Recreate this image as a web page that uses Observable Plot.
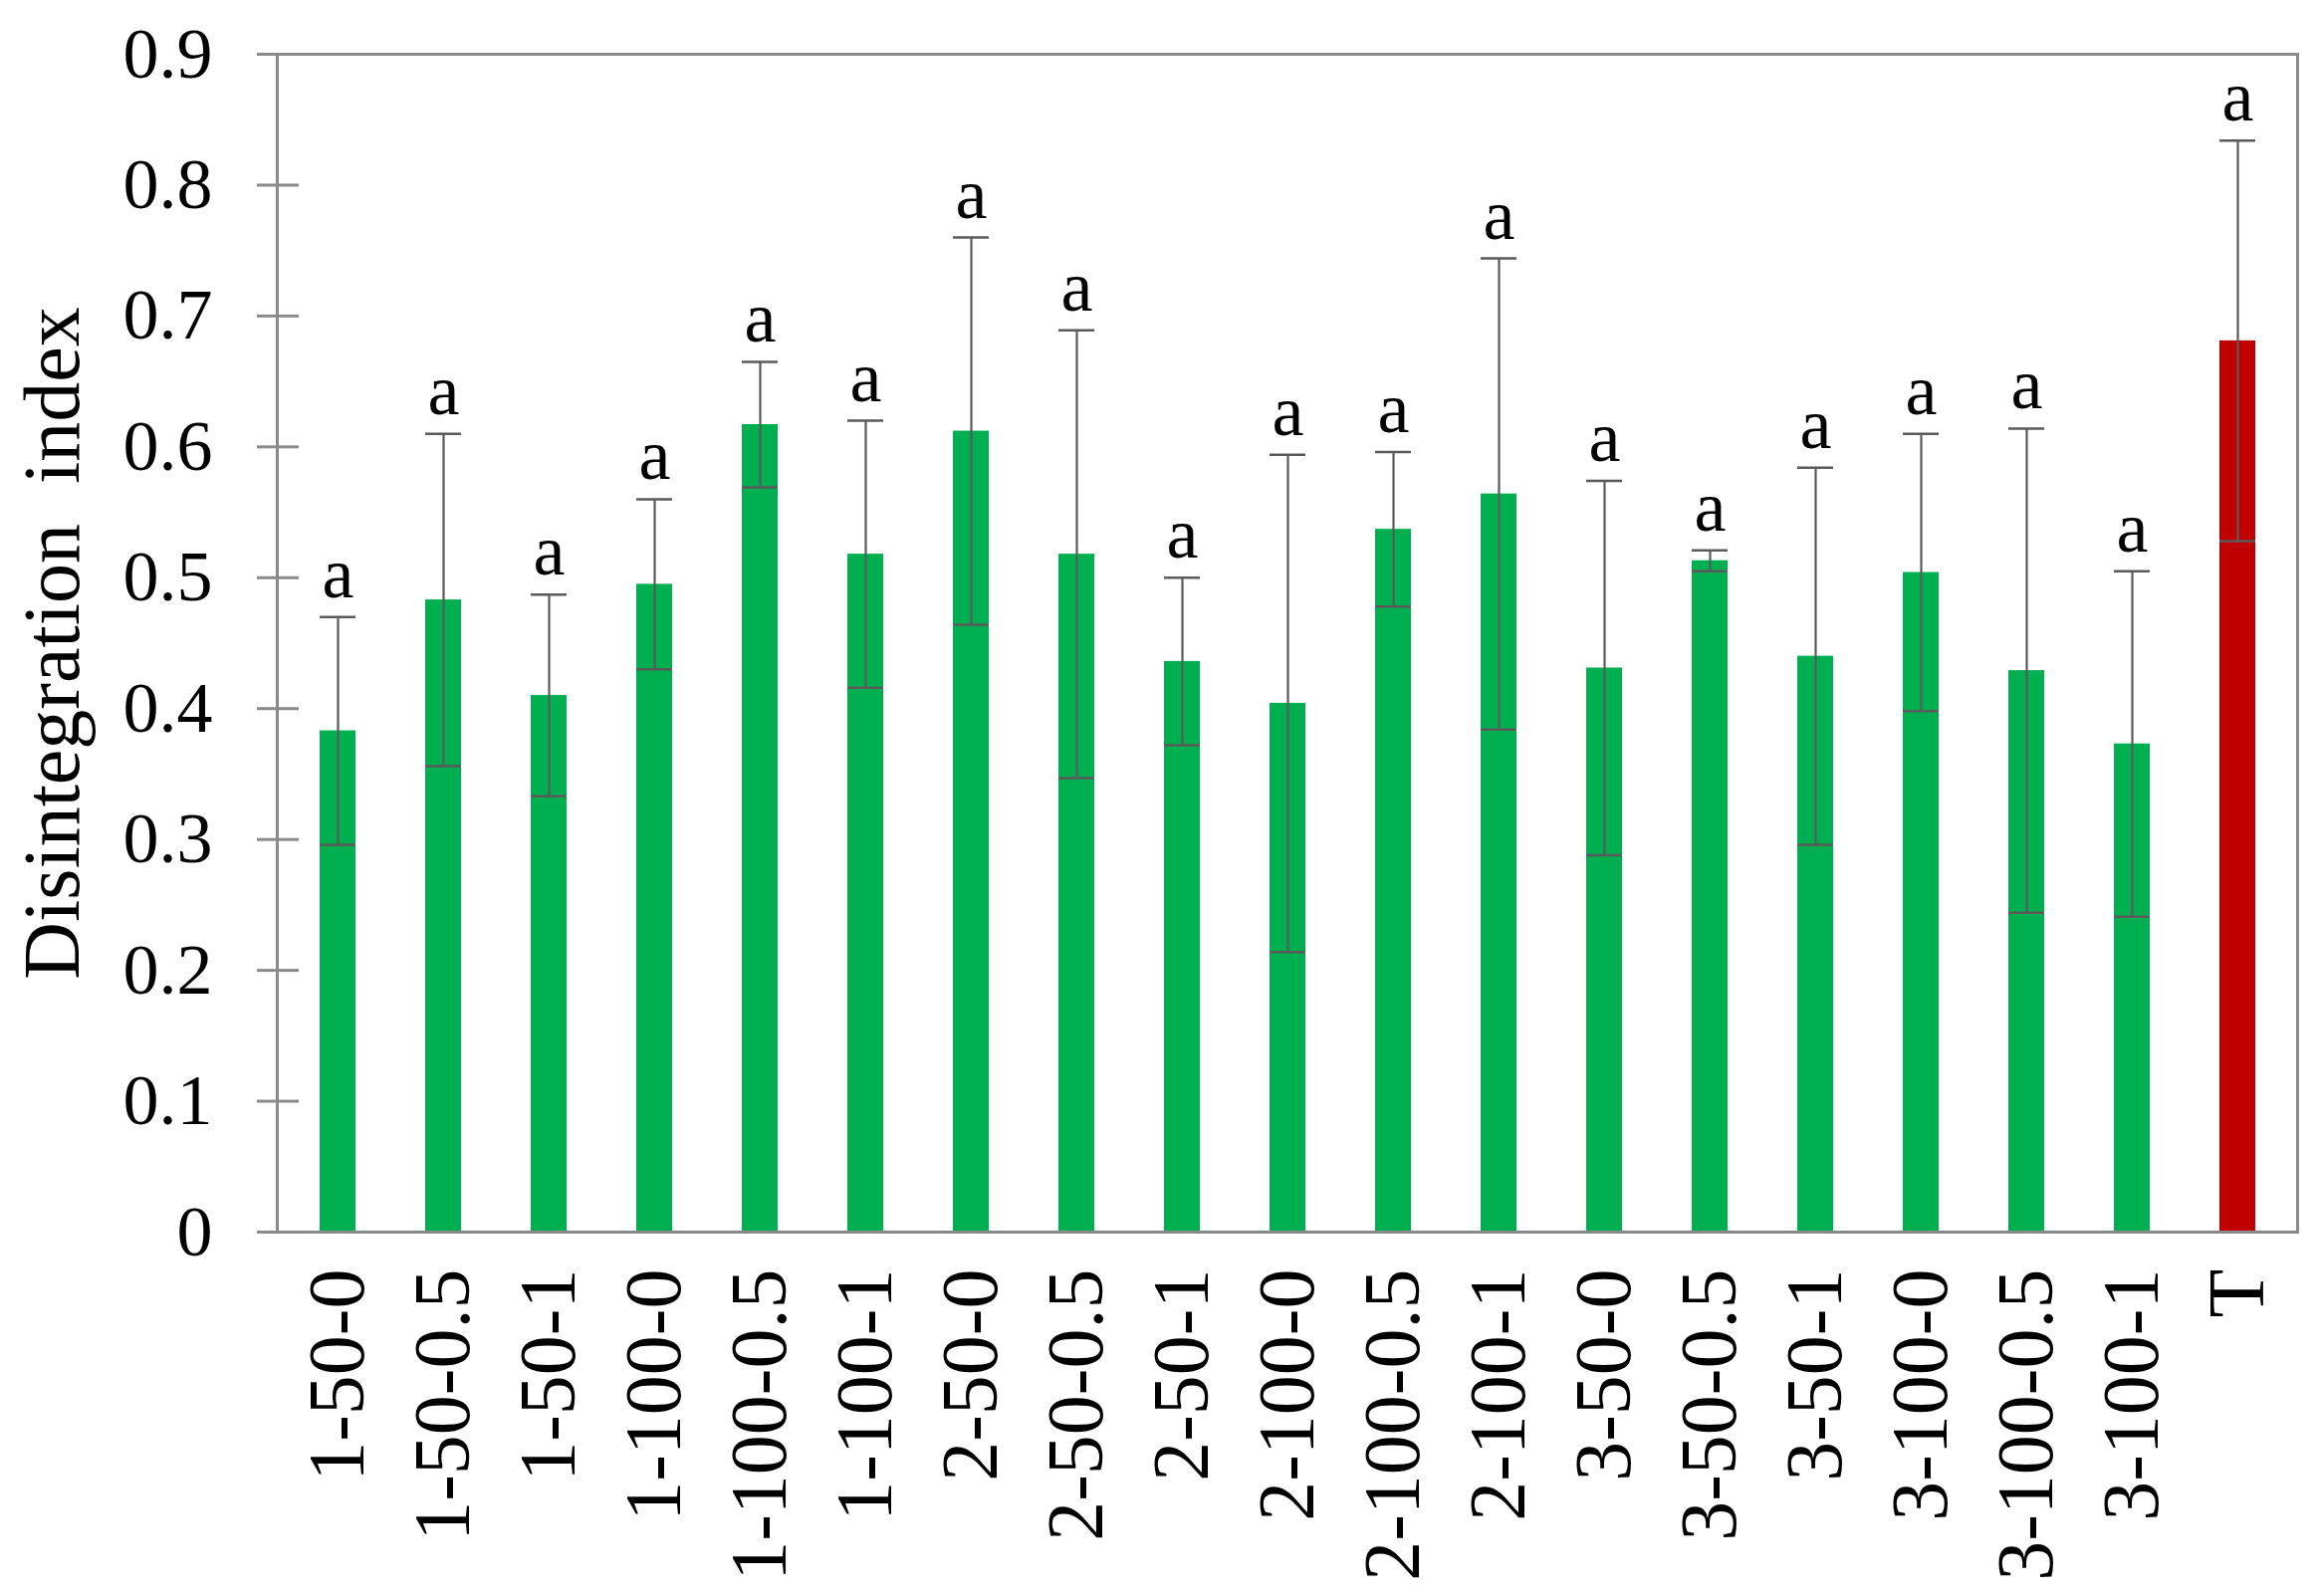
<!DOCTYPE html>
<html>
<head>
<meta charset="utf-8">
<script src="https://cdn.jsdelivr.net/npm/d3@7"></script>
<script src="https://cdn.jsdelivr.net/npm/@observablehq/plot@0.6"></script>
<style>
  html, body { margin: 0; padding: 0; background: #fff; }
  svg { display: block; }
</style>
</head>
<body>
<div id="chart"></div>
<script>
const categories = ["1-50-0","1-50-0.5","1-50-1","1-100-0","1-100-0.5","1-100-1","2-50-0","2-50-0.5","2-50-1","2-100-0","2-100-0.5","2-100-1","3-50-0","3-50-0.5","3-50-1","3-100-0","3-100-0.5","3-100-1","T"];
const means  = [0.383,0.483,0.410,0.495,0.617,0.518,0.612,0.518,0.436,0.404,0.537,0.564,0.431,0.513,0.440,0.504,0.429,0.373,0.681];
const errors = [0.087,0.127,0.077,0.065,0.048,0.102,0.148,0.171,0.064,0.190,0.059,0.180,0.143,0.008,0.144,0.106,0.185,0.132,0.153];
const letters = ["a","a","a","a","a","a","a","a","a","a","a","a","a","a","a","a","a","a","a"];
const groups = ["treatment","treatment","treatment","treatment","treatment","treatment","treatment","treatment","treatment","treatment","treatment","treatment","treatment","treatment","treatment","treatment","treatment","treatment","control"];
const yTicks = [0,0.1,0.2,0.3,0.4,0.5,0.6,0.7,0.8,0.9];
const yLabel = "Disintegration  index";

const data = categories.map((c, i) => ({
  cat: c, mean: means[i], lo: means[i] - errors[i], hi: means[i] + errors[i],
  letter: letters[i], group: groups[i]
}));

const font = "'Liberation Serif', 'Times New Roman', serif";
const axisColor = "#8a8a8a";
const errColor = "#5a5a5a";

const chart = Plot.plot({
  width: 2329,
  height: 1603,
  marginLeft: 278,
  marginRight: 22,
  marginTop: 54,
  marginBottom: 366,
  style: { fontFamily: font, background: "#fff" },
  x: { type: "band", domain: categories, paddingInner: 0.663, paddingOuter: 0.3315, label: null },
  y: { domain: [0, 0.9], label: null },
  color: { domain: ["treatment","control"], range: ["#00B050","#C00000"] },
  marks: [
    Plot.barY(data, { x: "cat", y: "mean", fill: "group" }),
    Plot.ruleX(data, { x: "cat", y1: "lo", y2: "hi", stroke: errColor, strokeWidth: 2.2 }),
    Plot.tickY(data, { x: "cat", y: "hi", stroke: errColor, strokeWidth: 2.5 }),
    Plot.tickY(data, { x: "cat", y: "lo", stroke: errColor, strokeWidth: 2.5 }),
    Plot.text(data, { x: "cat", y: "hi", text: "letter", dy: -20, lineAnchor: "bottom",
      fontSize: 72, fill: "#000", fontFamily: font }),
    Plot.frame({ stroke: axisColor, strokeWidth: 3 }),
    Plot.axisY({ ticks: yTicks, tickSize: 20, tickPadding: 45, stroke: axisColor, strokeWidth: 3,
      fontSize: 72, fill: "#000", label: null,
      tickFormat: d => d === 0 ? "0" : d.toFixed(1) }),
    Plot.axisY({ ticks: yTicks, tickSize: -22, text: null, stroke: axisColor, strokeWidth: 3, label: null }),
    Plot.axisX({ tickSize: 0, tickPadding: 37, tickRotate: -90, fontSize: 80, fill: "#000", label: null }),
    Plot.text([yLabel], { frameAnchor: "left", rotate: -90, dx: -225, text: d => d,
      fontSize: 80, fill: "#000", fontFamily: font, lineAnchor: "middle", textAnchor: "middle" })
  ]
});
document.getElementById("chart").appendChild(chart);
</script>
</body>
</html>
